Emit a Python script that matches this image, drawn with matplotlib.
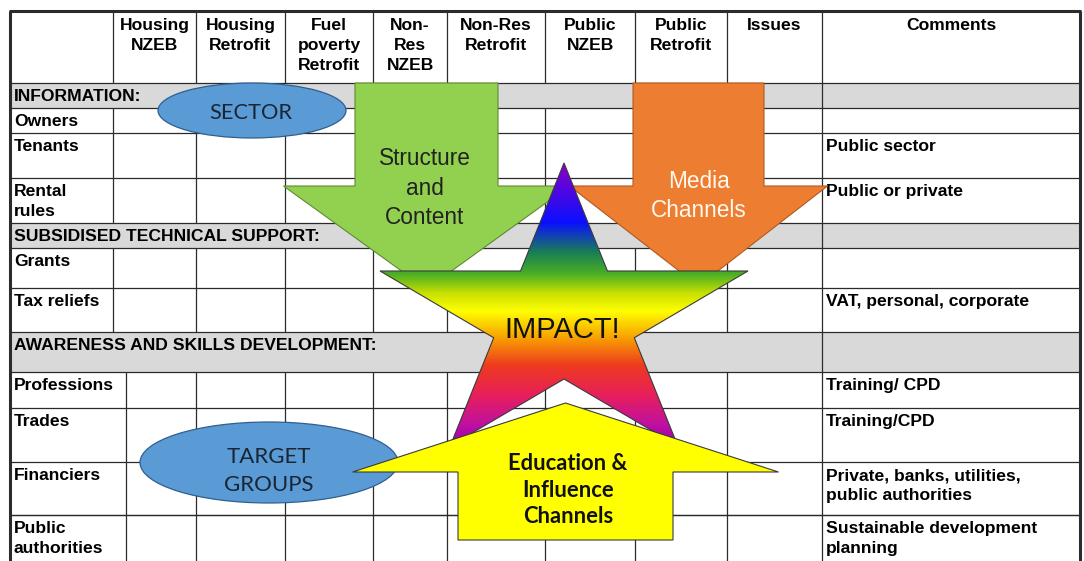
import numpy as np
import matplotlib.pyplot as plt
from matplotlib.patches import Polygon, Ellipse
from matplotlib.colors import LinearSegmentedColormap

# table content
headers = ["Housing\nNZEB", "Housing\nRetrofit", "Fuel\npoverty\nRetrofit", "Non-\nRes\nNZEB",
           "Non-Res\nRetrofit", "Public\nNZEB", "Public\nRetrofit", "Issues", "Comments"]
row_labels = ["INFORMATION:", "Owners", "Tenants", "Rental\nrules",
              "SUBSIDISED TECHNICAL SUPPORT:", "Grants", "Tax reliefs",
              "AWARENESS AND SKILLS DEVELOPMENT:", "Professions", "Trades",
              "Financiers", "Public\nauthorities"]
comments = ["", "", "Public sector", "Public or private", "", "",
            "VAT, personal, corporate", "", "Training/ CPD", "Training/CPD",
            "Private, banks, utilities,\npublic authorities",
            "Sustainable development\nplanning"]
section_rows = ["INFORMATION:", "SUBSIDISED TECHNICAL SUPPORT:", "AWARENESS AND SKILLS DEVELOPMENT:"]

# overlay labels
sector_label = "SECTOR"
target_label = "TARGET\nGROUPS"
green_label = "Structure\nand\nContent"
orange_label = "Media\nChannels"
star_label = "IMPACT!"
yellow_label = "Education &\nInfluence\nChannels"

# layout (pixels)
cols_top = [10, 113, 196, 285, 373, 447, 545, 635, 727, 822, 1080]
cols_bot = [10, 126, 196, 285, 373, 447, 545, 635, 727, 822, 1080]
table_top = 11
row_edges = [83, 108, 133, 178, 223, 248, 288, 332, 372, 408, 462, 515, 585]

LINE = '#2b2b2b'
GREY = '#d9d9d9'
TFONT = 'Liberation Sans'
TSIZE = 12.6
TLS = 1.4

fig = plt.figure(figsize=(10.84, 5.61), dpi=100)
ax = fig.add_axes([0, 0, 1, 1])
ax.axis('off')


def hline(y, x0, x1, lw=0.9):
    ax.plot([x0, x1], [y, y], color=LINE, lw=lw, zorder=1, solid_capstyle='butt')


def vline(x, y0, y1, lw=0.9):
    ax.plot([x, x], [y0, y1], color=LINE, lw=lw, zorder=1, solid_capstyle='butt')


# header row
for x in cols_top[1:-1]:
    vline(x, table_top, row_edges[0])
for i, h in enumerate(headers):
    xc = (cols_top[i + 1] + cols_top[i + 2]) / 2
    ax.text(xc, table_top + 7, h, ha='center', va='top', fontsize=TSIZE,
            fontweight='bold', family=TFONT, linespacing=TLS, zorder=3)

# body rows
for i, lab in enumerate(row_labels):
    y0, y1 = row_edges[i], row_edges[i + 1]
    cols = cols_top if i < 7 else cols_bot
    if lab in section_rows:
        ax.fill_between([cols[0], cols[-1]], y0, y1, color=GREY, zorder=0, lw=0)
        vline(cols[-2], y0, y1)
    else:
        for x in cols[1:-1]:
            vline(x, y0, y1)
    hline(y0, cols[0], cols[-1])
    ax.text(cols[0] + 4, y0 + 6, lab, ha='left', va='top', fontsize=TSIZE,
            fontweight='bold', family=TFONT, linespacing=TLS, zorder=3)
    if comments[i]:
        ax.text(cols[-2] + 4, y0 + 6, comments[i], ha='left', va='top', fontsize=TSIZE,
                fontweight='bold', family=TFONT, linespacing=TLS, zorder=3)
hline(row_edges[-2], cols_bot[0], cols_bot[-1])

# outer border
vline(10, table_top, 580, lw=2.2)
vline(1080, table_top, 580, lw=2.2)
hline(table_top, 9, 1081, lw=2.2)


def down_arrow(x0, x1, top, neck, half_head, tip):
    xc = (x0 + x1) / 2
    return [(x0, top), (x1, top), (x1, neck), (xc + half_head, neck), (xc, tip),
            (xc - half_head, neck), (x0, neck)]


def up_arrow(x0, x1, bottom, neck, half_head, tip):
    xc = (x0 + x1) / 2
    return [(x0, bottom), (x1, bottom), (x1, neck), (xc + half_head, neck), (xc, tip),
            (xc - half_head, neck), (x0, neck)]


def star_points(cx, cy, R, sy, ratio=0.382):
    pts = []
    for k in range(10):
        a = np.deg2rad(90 + 36 * k)
        r = R if k % 2 == 0 else R * ratio
        pts.append((cx + r * np.cos(a), cy - sy * r * np.sin(a)))
    return pts


# green arrow
green = Polygon(down_arrow(355, 498, 83, 186, 143, 289), closed=True,
                facecolor='#92d050', edgecolor='#5f8a35', lw=0.8, zorder=4)
ax.add_patch(green)
ax.text(425, 188, green_label, ha='center', va='center', fontsize=16.3,
        family=TFONT, color='#222222', linespacing=1.37, zorder=8)

# orange arrow
orange = Polygon(down_arrow(633, 764, 83, 186, 129, 286), closed=True,
                 facecolor='#ed7d31', edgecolor='#b05a20', lw=0.8, zorder=4)
ax.add_patch(orange)
ax.text(699, 196, orange_label, ha='center', va='center', fontsize=16.3,
        family=TFONT, color='#fff8f0', linespacing=1.3, zorder=8)

# rainbow star
star = Polygon(star_points(564, 319.3, 193.5, 0.808), closed=True,
               facecolor='none', edgecolor='#3a3a3a', lw=0.8, zorder=5.5)
ax.add_patch(star)
stops = [(163, '#8a00c8'), (222, '#0a10ff'), (252, '#1a7f55'), (274, '#4caf24'),
         (293, '#c8e000'), (311, '#ffff00'), (338, '#f8a000'), (366, '#ee3a20'),
         (395, '#e8205a'), (425, '#c010a0'), (446, '#9a00b8')]
ys = np.array([s[0] for s in stops], dtype=float)
cmap = LinearSegmentedColormap.from_list(
    'rb', [((y - ys[0]) / (ys[-1] - ys[0]), c) for y, c in stops])
grad = np.linspace(0, 1, 400).reshape(-1, 1)
im = ax.imshow(grad, cmap=cmap, extent=(370, 760, 446, 163), origin='upper',
               aspect='auto', zorder=5, interpolation='bilinear')
im.set_clip_path(Polygon(star_points(564, 319.3, 193.5, 0.808), closed=True,
                         transform=ax.transData))
ax.text(562, 330, star_label, ha='center', va='center', fontsize=21,
        family=TFONT, color='#111111', zorder=8)

# ellipses
e1 = Ellipse((252, 110.5), 188, 55, facecolor='#5b9bd5', edgecolor='#2f5f8f',
             lw=0.9, zorder=6)
ax.add_patch(e1)
ax.text(251, 113, sector_label, ha='center', va='center', fontsize=15.7,
        family='Lato', color='#1a2535', zorder=8)
e2 = Ellipse((269, 462.5), 258, 81, facecolor='#5b9bd5', edgecolor='#2f5f8f',
             lw=0.9, zorder=6)
ax.add_patch(e2)
ax.text(269, 471, target_label, ha='center', va='center', fontsize=16,
        family='Lato', color='#1a2535', linespacing=1.5, zorder=8)

# yellow arrow
yellow = Polygon(up_arrow(458, 673, 540, 472, 213, 403), closed=True,
                 facecolor='#ffff00', edgecolor='#3a3a3a', lw=0.8, zorder=7)
ax.add_patch(yellow)
ax.text(568, 490, yellow_label, ha='center', va='center', fontsize=15.8,
        family='Lato', fontweight='bold', color='#111111', linespacing=1.34, zorder=8)

ax.set_xlim(0, 1084)
ax.set_ylim(561, 0)
fig.savefig('out.png', dpi=100, facecolor='white')
